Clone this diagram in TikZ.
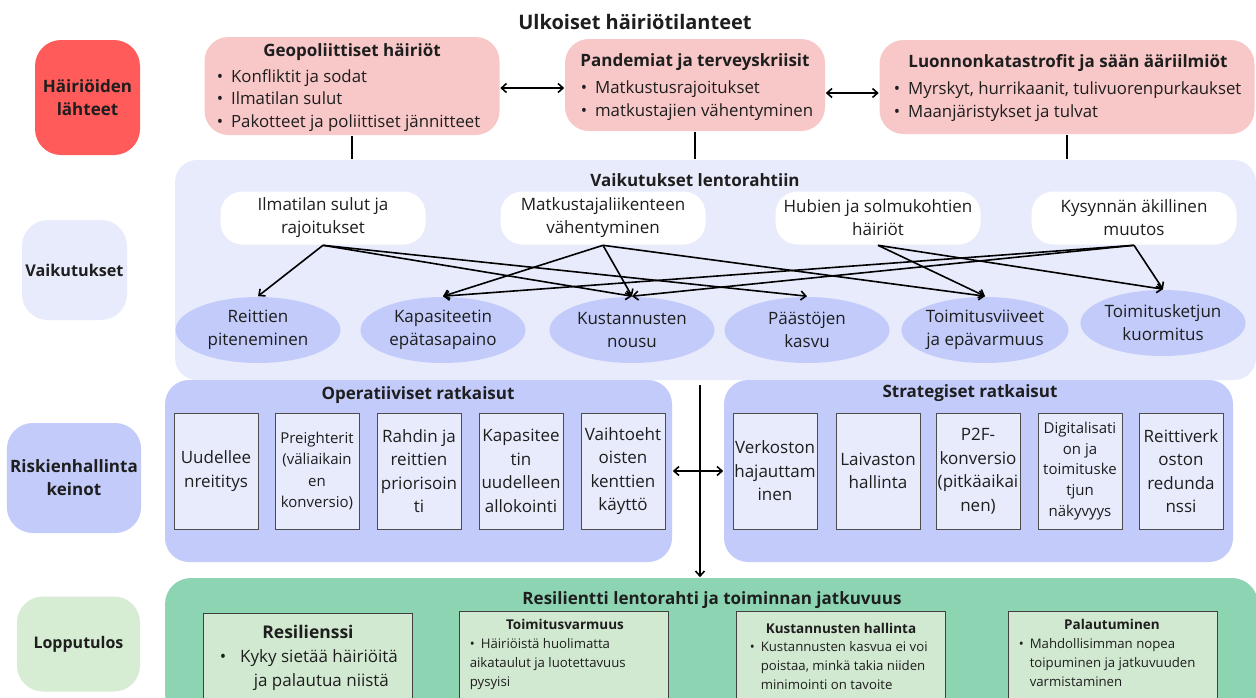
\documentclass[tikz,border=0pt]{standalone}
\usepackage{fontspec}
\setmainfont{Open Sans}
\usetikzlibrary{shapes.geometric,arrows.meta}
\definecolor{txt}{HTML}{1E1E1E}
\definecolor{redlbl}{HTML}{FF5B5B}
\definecolor{pinkbox}{HTML}{F8C7C7}
\definecolor{lavbox}{HTML}{E8EBFC}
\definecolor{bluebox}{HTML}{C2CBFA}
\definecolor{greenbox}{HTML}{8DD4B3}
\definecolor{lgreen}{HTML}{D2E9D1}
\definecolor{lgreenlbl}{HTML}{D6ECD3}
\newcommand{\bul}{\textbullet\hspace{8pt}}
\begin{document}
\begin{tikzpicture}[x=1pt, y=-1pt, thick, line width=1.6pt,
    >={Straight Barb[length=5pt,width=9pt]},
    every node/.style={text=txt},
    sidelbl/.style={rounded corners=26pt, align=center, font=\fontsize{17}{23}\selectfont\bfseries},
    srcbox/.style={fill=pinkbox, rounded corners=24pt},
    ttl/.style={font=\fontsize{17}{20}\selectfont\bfseries},
    blist/.style={align=left, anchor=base west, inner sep=0pt, font=\fontsize{16.8}{22.5}\selectfont},
    whitebox/.style={fill=white, rounded corners=22pt, minimum width=205pt, minimum height=53pt,
      align=center, font=\fontsize{17}{23}\selectfont},
    effect/.style={ellipse, fill=bluebox, minimum width=165pt, minimum height=66pt, inner sep=0pt,
      align=center, font=\fontsize{17}{23}\selectfont},
    keino/.style={draw=black!70, line width=0.8pt, fill=lavbox, minimum width=84pt, minimum height=116pt,
      inner sep=0pt, align=center, font=\fontsize{17}{23.5}\selectfont},
    keinosmall/.style={keino, font=\fontsize{15}{21.5}\selectfont},
    tulos/.style={draw=black!75, line width=0.8pt, fill=lgreen, minimum width=209pt, minimum height=92pt},
    tulostext/.style={align=left, anchor=base west, inner sep=0pt, font=\fontsize{13.2}{19}\selectfont}]

  \useasboundingbox (0,0) rectangle (1256,697);

  % title
  \node (title) at (635,22) [font=\fontsize{20}{24}\selectfont\bfseries] {Ulkoiset häiriötilanteet};

  % left column
  \node (hl) at (87.5,97.5) [sidelbl, fill=redlbl, minimum width=105pt, minimum height=115pt] {Häiriöiden\\lähteet};
  \node (vl) at (74.5,270) [sidelbl, fill=lavbox, minimum width=105pt, minimum height=100pt,
      font=\fontsize{16.2}{22}\selectfont\bfseries] {Vaikutukset};
  \node (rl) at (74,478) [sidelbl, fill=bluebox, minimum width=132pt, minimum height=110pt] {Riskienhallinta\\keinot};
  \node (ll) at (78.5,644) [sidelbl, fill=lgreenlbl, minimum width=123pt, minimum height=95pt,
      font=\fontsize{16}{22}\selectfont\bfseries] {Lopputulos};

  % sources
  \node (geo) at (352,86) [srcbox, minimum width=295pt, minimum height=98pt] {};
  \node (pan) at (695,85) [srcbox, minimum width=260pt, minimum height=92pt] {};
  \node (nat) at (1067,87) [srcbox, minimum width=375pt, minimum height=94pt] {};
  \node (geot) at (352,52) [ttl] {Geopoliittiset häiriöt};
  \node (geol) at (216,127) [blist] {\bul Konfliktit ja sodat\\\bul Ilmatilan sulut\\\bul Pakotteet ja poliittiset jännitteet};
  \node (pant) at (695,62) [ttl] {Pandemiat ja terveyskriisit};
  \node (panl) at (580,116) [blist] {\bul Matkustusrajoitukset\\\bul matkustajien vähentyminen};
  \node (natt) at (1068,63) [ttl] {Luonnonkatastrofit ja sään ääriilmiöt};
  \node (natl) at (893,117) [blist] {\bul Myrskyt, hurrikaanit, tulivuorenpurkaukset\\\bul Maanjäristykset ja tulvat};
  \draw[<->] (geo.east |- 0,88) -- (pan.west |- 0,88);
  \draw[<->] (pan.east |- 0,93) -- (nat.west |- 0,93);

  % effects
  \node (vai) at (715.5,270) [fill=lavbox, rounded corners=22pt, minimum width=1081pt, minimum height=220pt] {};
  \node (vait) at (695,180) [ttl] {Vaikutukset lentorahtiin};
  \draw (geo.south) -- (geo.south |- vai.north);
  \draw (pan.south) -- (pan.south |- vai.north);
  \draw (nat.south) -- (nat.south |- vai.north);

  \node (s1) at (323,218) [whitebox] {Ilmatilan sulut ja\\rajoitukset};
  \node (s2) at (603,218) [whitebox] {Matkustajaliikenteen\\vähentyminen};
  \node (s3) at (878,218) [whitebox] {Hubien ja solmukohtien\\häiriöt};
  \node (s4) at (1134,218) [whitebox] {Kysynnän äkillinen\\muutos};

  \node (e1) at (258,330) [effect] {Reittien\\piteneminen};
  \node (e2) at (443,330) [effect] {Kapasiteetin\\epätasapaino};
  \node (e3) at (632,330) [effect] {Kustannusten\\nousu};
  \node (e4) at (807,330) [effect] {Päästöjen\\kasvu};
  \node (e5) at (985,330) [effect] {Toimitusviiveet\\ja epävarmuus};
  \node (e6) at (1163,323) [effect] {Toimitusketjun\\kuormitus};

  \draw[->] (s1.south) -- (e1.north);
  \draw[->] (s1.south) -- (e3.north);
  \draw[->] (s1.south) -- (e4.north);
  \draw[->] (s2.south) -- (e2.north);
  \draw[->] (s2.south) -- (e3.north);
  \draw[->] (s2.south) -- (e5.north);
  \draw[->] (s3.south) -- (e5.north);
  \draw[->] (s3.south) -- (e6.north);
  \draw[->] (s4.south) -- (e2.north);
  \draw[->] (s4.south) -- (e3.north);
  \draw[->] (s4.south) -- (e6.north);

  % risk management
  \node (ops) at (418.5,471) [fill=bluebox, rounded corners=24pt, minimum width=507pt, minimum height=182pt] {};
  \node (str) at (978.5,471) [fill=bluebox, rounded corners=24pt, minimum width=509pt, minimum height=182pt] {};
  \node (opst) at (418,395) [ttl] {Operatiiviset ratkaisut};
  \node (strt) at (970,393) [ttl] {Strategiset ratkaisut};

  \node (o1) at (216,471) [keino] {Uudellee\\nreititys};
  \node (o2) at (317,471) [keinosmall] {Preighterit\\(väliaikain\\en\\konversio)};
  \node (o3) at (419,471) [keino] {Rahdin ja\\reittien\\priorisoin\\ti};
  \node (o4) at (521,471) [keino] {Kapasitee\\tin\\uudelleen\\allokointi};
  \node (o5) at (623,471) [keino] {Vaihtoeht\\oisten\\kenttien\\käyttö};
  \node (t1) at (775,471) [keino] {Verkoston\\hajauttam\\inen};
  \node (t2) at (878,471) [keino] {Laivaston\\hallinta};
  \node (t3) at (978,471) [keino] {P2F-\\konversio\\(pitkäaikai\\nen)};
  \node (t4) at (1080,471) [keinosmall, font=\fontsize{15}{20.8}\selectfont] {Digitalisati\\on ja\\toimituske\\tjun\\näkyvyys};
  \node (t5) at (1181,471) [keino] {Reittiverk\\oston\\redunda\\nssi};

  % outcome
  \node (res) at (711.5,649) [fill=greenbox, rounded corners=26pt, minimum width=1093pt, minimum height=142pt] {};
  \node (rest) at (712,600) [ttl] {Resilientti lentorahti ja toiminnan jatkuvuus};

  \coordinate (mid) at (700,385);
  \draw[->] (mid) -- (mid |- res.north);
  \draw[<->] (ops.east) -- (str.west);

  \node (r1) at (307.5,659) [tulos] {};
  \node (r2) at (564,657) [tulos] {};
  \node (r3) at (841,657) [tulos] {};
  \node (r4) at (1112.5,657) [tulos] {};

  \node (r1t) at (308,632) [font=\fontsize{17.5}{20}\selectfont\bfseries] {Resilienssi};
  \node (r1l) at (219,686) [align=left, anchor=base west, inner sep=0pt, font=\fontsize{17}{24}\selectfont]
      {\textbullet\hspace{14pt}Kyky sietää häiriöitä\\\hspace*{34pt}ja palautua niistä};
  \node (r2t) at (565,624) [font=\fontsize{13.5}{16}\selectfont\bfseries] {Toimitusvarmuus};
  \node (r2l) at (469,686) [tulostext] {\textbullet\hspace{6pt}Häiriöistä huolimatta\\aikataulut ja luotettavuus\\pysyisi};
  \node (r3t) at (841,628) [font=\fontsize{13.5}{16}\selectfont\bfseries] {Kustannusten hallinta};
  \node (r3l) at (749,689) [tulostext] {\textbullet\hspace{6pt}Kustannusten kasvua ei voi\\\hphantom{\textbullet\hspace{6pt}}poistaa, minkä takia niiden\\\hphantom{\textbullet\hspace{6pt}}minimointi on tavoite};
  \node (r4t) at (1112,624) [font=\fontsize{13.5}{16}\selectfont\bfseries] {Palautuminen};
  \node (r4l) at (1018,686) [tulostext] {\textbullet\hspace{6pt}Mahdollisimman nopea\\\hphantom{\textbullet\hspace{6pt}}toipuminen ja jatkuvuuden\\\hphantom{\textbullet\hspace{6pt}}varmistaminen};

\end{tikzpicture}
\end{document}
